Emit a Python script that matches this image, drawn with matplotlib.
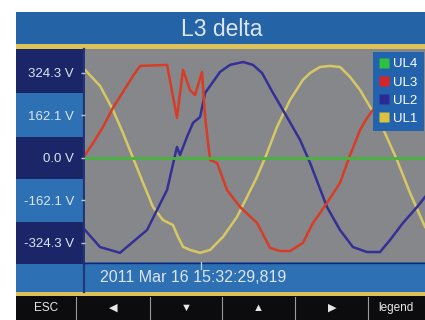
import matplotlib
matplotlib.use("Agg")
import matplotlib.pyplot as plt
from matplotlib.patches import Rectangle
from matplotlib.lines import Line2D

# ---- data (time in ms, voltage in V) ----
t_ul1 = [0.00, 1.14, 2.12, 2.88, 3.64, 4.40, 5.15, 5.91, 6.67, 7.05, 7.43, 7.96, 8.72, 9.48, 10.46,
         11.52, 12.28, 13.04, 13.80, 14.55, 15.54, 16.52, 17.06, 17.81, 18.57, 19.33, 20.09, 20.85,
         21.60, 22.36, 23.65, 24.64, 25.77]
v_ul1 = [336, 275, 183, 95, 0, -95, -187, -237, -256, -301, -339, -351, -362, -351, -301,
         -225, -149, -72, 19, 118, 221, 298, 324, 347, 351, 347, 309, 259,
         195, 137, -8, -134, -263]

t_ul2 = [0.00, 1.14, 2.65, 4.70, 6.22, 6.97, 7.20, 7.73, 8.19, 8.72, 9.10, 9.70, 10.23, 10.99, 11.98,
         12.73, 13.42, 14.25, 15.31, 16.30, 17.06, 18.34, 19.33, 20.31, 21.38, 22.36, 23.12, 24.10,
         25.17, 25.77]
v_ul2 = [-275, -340, -362, -275, -122, 42, 11, 80, 134, 156, 248, 290, 328, 355, 366,
         355, 324, 248, 156, 69, -19, -187, -275, -340, -359, -359, -313, -248,
         -187, -149]

t_ul3 = [0.00, 0.61, 1.36, 2.12, 2.88, 3.64, 4.17, 6.22, 6.97, 7.43, 7.96, 8.34, 8.87, 9.10, 9.48,
         10.01, 10.76, 11.75, 13.04, 14.02, 14.78, 15.54, 16.52, 17.28, 18.34, 19.33, 20.09, 20.85,
         21.38, 21.83, 22.36]
v_ul3 = [11, 57, 118, 191, 252, 313, 351, 355, 153, 336, 259, 240, 328, 156, -8,
         -19, -122, -187, -248, -343, -355, -355, -324, -248, -172, -95, 11, 107,
         153, 183, 229]

t_ul4 = [0.0, 25.77]
v_ul4 = [0, 0]

series_names = ["UL4", "UL3", "UL2", "UL1"]
ytick_vals = [324.3, 162.1, 0.0, -162.1, -324.3]
ytick_labels = ["324.3 V", "162.1 V", "0.0 V", "-162.1 V", "-324.3 V"]
title = "L3 delta"
timestamp = "2011 Mar 16 15:32:29,819"
buttons = ["ESC", "\u25C0", "\u25BC", "\u25B2", "\u25B6", "legend"]

# ---- styling ----
FONT = ["Liberation Sans", "DejaVu Sans"]
plt.rcParams['font.family'] = FONT
c_title = "#2463a6"
c_yellow_stripe = "#dcc258"
c_dark = "#1b2668"
c_light = "#2d71b4"
c_gray = "#86878b"
c_black = "#0c0c0e"
c_text = "#dde6f0"
col = {"UL1": "#d6c863", "UL2": "#343096", "UL3": "#d83c26", "UL4": "#48b43c"}
leg_col = {"UL1": "#dcc23c", "UL2": "#2c2a92", "UL3": "#d82424", "UL4": "#30c040"}

W, H = 425, 320
fig = plt.figure(figsize=(W / 100, H / 100), dpi=100)
fig.patch.set_facecolor("white")

# background "screen" drawn in pixel coordinates
bg = fig.add_axes([0, 0, 1, 1], zorder=0)
bg.set_xlim(0, W)
bg.set_ylim(H, 0)
bg.axis("off")

def rect(x0, y0, x1, y1, c):
    bg.add_patch(Rectangle((x0, y0), x1 - x0, y1 - y0, facecolor=c, edgecolor="none"))

rect(16, 12, W, 44, c_title)
rect(16, 44, W, 49, c_yellow_stripe)
rect(84, 49, W, 262, c_gray)
bands = [(49, 93, c_dark), (93, 137, c_light), (137, 179, c_dark),
         (179, 222, c_light), (222, 264, c_dark), (264, 292, c_light)]
for y0, y1, c in bands:
    rect(16, y0, 84, y1, c)
rect(84, 262, W, 292, c_light)
bg.plot([84, 84], [49, 292], color="#22357a", lw=1.6)
bg.plot([84, W], [262.5, 262.5], color=c_dark, lw=1.0)
rect(16, 292, W, 296, c_yellow_stripe)
rect(16, 296, W, H, c_black)
for xs in [76, 150, 222, 295, 368]:
    bg.plot([xs, xs], [297, H], color="#9a9aa0", lw=0.8)
# cursor marker
bg.plot([201, 201], [262, 269], color="#c8d4e0", lw=0.9)

bg.text(222, 29, title, ha="center", va="center", fontsize=16.5, color=c_text, family=FONT)
bg.text(100, 278, timestamp, ha="left", va="center", fontsize=11.5, color=c_text, family=FONT)
btn_x = [46, 113, 186, 258, 332, 396]
for bx, lab in zip(btn_x, buttons):
    fs = 8.5 if len(lab) > 1 else 8
    bg.text(bx, 308, lab, ha="center", va="center", fontsize=fs, color="#e8e8e8", family=FONT)

# ---- main plot ----
ax = fig.add_axes([85 / W, (H - 262) / H, (W - 85) / W, (262 - 51) / H], zorder=2)
ax.set_facecolor(c_gray)
ax.plot(t_ul1, v_ul1, color=col["UL1"], lw=1.8)
ax.plot(t_ul2, v_ul2, color=col["UL2"], lw=1.8)
ax.plot(t_ul3, v_ul3, color=col["UL3"], lw=1.8)
ax.plot(t_ul4, v_ul4, color=col["UL4"], lw=2.0)
ax.set_xlim(0, 25.77)
ax.set_ylim(-397, 408)
ax.set_xticks([])
ax.set_yticks(ytick_vals)
ax.set_yticklabels(ytick_labels)
ax.tick_params(axis="y", length=3, width=1, color="#b8c4d4", pad=5,
               labelsize=9.5, labelcolor=c_text)
for s in ax.spines.values():
    s.set_visible(False)

handles = [Line2D([], [], marker="s", ls="none", markersize=7,
                  markerfacecolor=leg_col[n], markeredgecolor="none") for n in series_names]
leg = ax.legend(handles, series_names, loc="upper right", bbox_to_anchor=(1.0, 1.0),
                borderaxespad=0.1, frameon=True, fancybox=False, facecolor="#2363ad",
                edgecolor="none", framealpha=1, fontsize=9.5, labelcolor="white",
                handlelength=0.8, handletextpad=0.3, labelspacing=0.45, borderpad=0.45)

fig.savefig("out.png", dpi=100, facecolor="white")
